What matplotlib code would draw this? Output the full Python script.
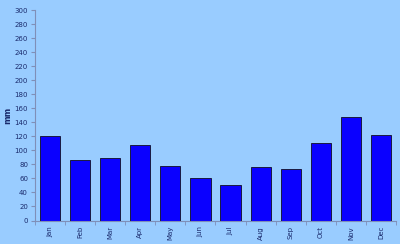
import matplotlib
matplotlib.use('Agg')
import matplotlib.pyplot as plt
import numpy as np

months = ['Jan', 'Feb', 'Mar', 'Apr', 'May', 'Jun', 'Jul', 'Aug', 'Sep', 'Oct', 'Nov', 'Dec']
rainfall = [120, 86, 89, 107, 77, 60, 50, 76, 73, 111, 147, 122]
yticks = list(range(0, 301, 20))

bg = '#99ccff'
navy = '#1a2a6c'
axis_col = '#7f8fb8'

fig = plt.figure(figsize=(4, 2.44), dpi=100, facecolor=bg)
ax = fig.add_axes([0.0875, 0.0963, 0.9025, 0.8627], facecolor=bg)

x = np.arange(len(months))
ax.bar(x, rainfall, width=0.67, color='#0a00ff', edgecolor='#1a1a40', linewidth=0.7)

ax.set_xlim(-0.5, len(months) - 0.5)
ax.set_ylim(0, 300)
ax.set_yticks(yticks)
ax.set_xticks(x)
ax.set_xticklabels(months, rotation=90)
ax.set_xticks(np.arange(-0.5, len(months), 1.0), minor=True)
ax.tick_params(axis='x', which='major', length=0, labelsize=5, colors=navy, pad=4)
ax.tick_params(axis='x', which='minor', length=3, color=axis_col, direction='out')
ax.tick_params(axis='y', length=3, color=axis_col, labelsize=5, labelcolor=navy, pad=2)

for side in ['top', 'right']:
	ax.spines[side].set_visible(False)
for side in ['left', 'bottom']:
	ax.spines[side].set_color(axis_col)
	ax.spines[side].set_linewidth(0.8)

ax.set_ylabel('mm', fontsize=6, fontweight='bold', color=navy)
ax.yaxis.set_label_coords(-0.062, 0.5)

fig.savefig('out.png', dpi=100, facecolor=bg)
